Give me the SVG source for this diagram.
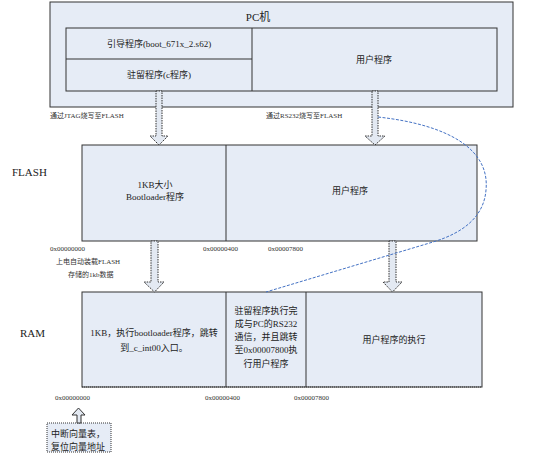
<svg xmlns="http://www.w3.org/2000/svg" width="554" height="462" viewBox="0 0 554 462">
<style>
text{font-family:"Liberation Serif","Noto Sans CJK SC",serif;fill:#222}
.t{font-size:9px;text-anchor:middle}
.s{font-size:7px;fill:#333}
.big{font-size:11px}
.box{fill:#e6ecf6;stroke:#333;stroke-width:1}
.arr{fill:#e3e9f2;stroke:#333;stroke-width:1;stroke-dasharray:1.5 1}
</style>
<rect width="554" height="462" fill="#fff"/>
<g id="pc">
<rect class="box" x="50" y="2" width="463" height="105"/>
<text class="t big" x="258" y="21">PC机</text>
<rect class="box" x="66" y="28" width="431" height="63"/>
<line x1="252" y1="28" x2="252" y2="91" stroke="#333"/>
<line x1="66" y1="59" x2="252" y2="59" stroke="#333"/>
<text class="t" x="159" y="47">引导程序(boot_671x_2.s62)</text>
<text class="t" x="159" y="78">驻留程序(c程序)</text>
<text class="t" x="374" y="63">用户程序</text>
</g>
<g id="flash">
<text class="big" x="12" y="176">FLASH</text>
<rect class="box" x="82" y="145" width="395" height="96"/>
<line x1="226" y1="145" x2="226" y2="241" stroke="#333"/>
<text class="t" x="155" y="188">1KB大小</text>
<text class="t" x="155" y="200">Bootloader程序</text>
<text class="t" x="350" y="194">用户程序</text>
</g>
<g id="ram">
<text class="big" x="20" y="337">RAM</text>
<rect class="box" x="82" y="292" width="400" height="95"/>
<line x1="82" y1="387" x2="482" y2="387" stroke="#333" stroke-dasharray="1 1"/>
<line x1="226" y1="292" x2="226" y2="387" stroke="#333"/>
<line x1="306" y1="292" x2="306" y2="387" stroke="#333"/>
<text class="t" x="154" y="336">1KB，执行bootloader程序，跳转</text>
<text class="t" x="154" y="351">到_c_int00入口。</text>
<text class="t" x="266" y="314">驻留程序执行完</text>
<text class="t" x="266" y="327">成与PC的RS232</text>
<text class="t" x="266" y="340">通信，并且跳转</text>
<text class="t" x="266" y="353">至0x00007800执</text>
<text class="t" x="266" y="367">行用户程序</text>
<text class="t" x="394" y="343">用户程序的执行</text>
</g>
<g id="vec">
<rect x="47" y="423" width="64" height="29" fill="#e6ecf6" stroke="#333" stroke-dasharray="1 1"/>
<text font-size="9" x="51" y="437">中断向量表，</text>
<text font-size="9" x="51" y="450">复位向量地址</text>
</g>
<g id="labels">
<text class="s" x="50" y="118">通过JTAG烧写至FLASH</text>
<text class="s" x="266" y="118">通过RS232烧写至FLASH</text>
<text class="s" x="50" y="251">0x00000000</text>
<text class="s" x="203" y="251">0x00000400</text>
<text class="s" x="268" y="251">0x00007800</text>
<text class="s" x="56" y="264">上电自动装载FLASH</text>
<text class="s" x="68" y="277">存储的1kb数据</text>
<text class="s" x="55" y="400">0x00000000</text>
<text class="s" x="205" y="400">0x00000400</text>
<text class="s" x="294" y="400">0x00007800</text>
</g>
<g id="connectors">
<path class="arr" d="M156,91 H162 V136 H168 L159,145 L150,136 H156 Z"/>
<path class="arr" d="M372,91 H378 V136 H385 L375,145 L365,136 H372 Z"/>
<path class="arr" d="M151,241 H158 V282 H164 L154.5,292 L144,282 H151 Z"/>
<path class="arr" d="M389,241 H396 V282 H402 L392.5,292 L383,282 H389 Z"/>
<path d="M77,423 V415 H72 L78.5,408 L85,415 H81 V423 Z" fill="#e3e9f2" stroke="#333" stroke-width="1"/>
<path d="M378,117 C450,125 490,150 486,190 C484,215 466,232 433,242 L266,292" fill="none" stroke="#4472c4" stroke-width="1" stroke-dasharray="3 1.5"/>
</g>
</svg>
